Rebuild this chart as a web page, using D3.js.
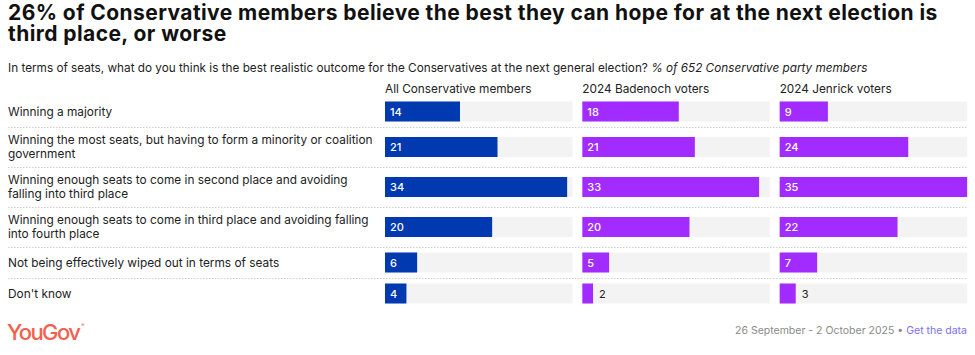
<!DOCTYPE html>
<html><head><meta charset="utf-8">
<script src="https://cdn.jsdelivr.net/npm/d3@7"></script>
<style>
html,body{margin:0;padding:0;background:#fff;}
svg{display:block;font-family:Inter,"Noto Sans",sans-serif;}
</style></head>
<body><svg id="chart" width="975" height="355"></svg>
<script>
const titleLines = ["26% of Conservative members believe the best they can hope for at the next election is", "third place, or worse"];
const subtitle = "In terms of seats, what do you think is the best realistic outcome for the Conservatives at the next general election?";
const subtitleNote = "% of 652 Conservative party members";
const categories = [
  "Winning a majority",
  "Winning the most seats, but having to form a minority or coalition government",
  "Winning enough seats to come in second place and avoiding falling into third place",
  "Winning enough seats to come in third place and avoiding falling into fourth place",
  "Not being effectively wiped out in terms of seats",
  "Don't know"
];
const groups = ["All Conservative members", "2024 Badenoch voters", "2024 Jenrick voters"];
const allMembers = [14, 21, 34, 20, 6, 4];
const badenochVoters = [18, 21, 33, 20, 5, 2];
const jenrickVoters = [9, 24, 35, 22, 7, 3];
const seriesValues = [allMembers, badenochVoters, jenrickVoters];
const groupColors = ["#0039b0", "#a22bff"];
const footerDate = "26 September - 2 October 2025";
const footerLink = "Get the data";

(function () {
const svg = d3.select("#chart");
const left = 8, right = 967;

// Title
const title = svg.append("text").attr("x", left).attr("y", 19.5)
  .attr("font-size", 21).attr("font-weight", 700).attr("letter-spacing", 0.42).attr("fill", "#111");
titleLines.forEach((t, i) => title.append("tspan").attr("x", left).attr("dy", i ? 21.5 : 0).text(t));

// Subtitle
const sub = svg.append("text").attr("x", left).attr("y", 71.5).attr("font-size", 11.75).attr("fill", "#222");
sub.append("tspan").text(subtitle + " ");
sub.append("tspan").attr("font-style", "italic").text(subtitleNote);

// Layout
const labelFont = 11.85;
const maxLabelW = 370;
function wrap(text) {
  const tmp = svg.append("text").attr("font-size", labelFont);
  const words = text.split(" ");
  const lines = []; let cur = "";
  words.forEach(w => {
    const test = cur ? cur + " " + w : w;
    tmp.text(test);
    if (tmp.node().getComputedTextLength() > maxLabelW && cur) { lines.push(cur); cur = w; }
    else cur = test;
  });
  lines.push(cur);
  tmp.remove();
  return lines;
}
const wrapped = categories.map(wrap);
const rowH = wrapped.map(l => Math.max(31, l.length * 14 + 12));
const top0 = 96;
const rowY = []; let acc = top0;
rowH.forEach(h => { rowY.push(acc); acc += h; });

const panelX = d3.scaleBand().domain(groups).range([385, 977]);
const panelW = 187.5;
const maxV = d3.max(seriesValues.flat());
const x = d3.scaleLinear().domain([0, maxV]).range([0, panelW]);
const barH = 20;

rowY.slice(1).forEach(y => {
  svg.append("line").attr("x1", left).attr("x2", right).attr("y1", y + 0.5).attr("y2", y + 0.5)
    .attr("stroke", "#cfcfcf").attr("stroke-width", 1).attr("stroke-dasharray", "1.5,1.5");
});

categories.forEach((c, i) => {
  const lines = wrapped[i];
  const cy = rowY[i] + rowH[i] / 2;
  const t = svg.append("text").attr("x", left).attr("font-size", labelFont).attr("fill", "#222");
  lines.forEach((ln, j) => {
    t.append("tspan").attr("x", left).attr("y", cy + (j - (lines.length - 1) / 2) * 14 + 4).text(ln);
  });
});

groups.forEach((g, gi) => {
  const px = panelX(g);
  const gEl = svg.append("g").attr("transform", `translate(${px},0)`);
  gEl.append("text").attr("x", 0).attr("y", 93).attr("font-size", 11.8).attr("fill", "#222").text(g);
  const color = groupColors[gi === 0 ? 0 : 1];
  seriesValues[gi].forEach((v, i) => {
    const y = rowY[i] + (rowH[i] - barH) / 2;
    gEl.append("rect").attr("x", 0).attr("y", y).attr("width", x(maxV)).attr("height", barH).attr("fill", "#f3f3f3");
    gEl.append("rect").attr("x", 0).attr("y", y).attr("width", x(v)).attr("height", barH).attr("fill", color);
    const inside = x(v) > 18;
    gEl.append("text").attr("x", inside ? 5 : x(v) + 6).attr("y", y + barH / 2 + 4)
      .attr("font-size", 11).attr("font-weight", inside ? 500 : 400)
      .attr("fill", inside ? "#fff" : "#222").text(v);
  });
});

const logo = svg.append("text").attr("x", left - 1).attr("y", 340).attr("font-size", 22).attr("font-weight", 500)
  .attr("letter-spacing", -1.6).attr("fill", "#f4604e");
logo.append("tspan").text("YouGov");
logo.append("tspan").attr("font-size", 5).attr("dy", -13).attr("dx", 2).attr("letter-spacing", 0).text("®");
const ft = svg.append("text").attr("x", right).attr("y", 334).attr("text-anchor", "end").attr("font-size", 10.5).attr("fill", "#8a8a8a");
ft.append("tspan").text(footerDate + " • ");
ft.append("tspan").attr("fill", "#7b6ff0").text(footerLink);
})();
</script>
</body></html>
